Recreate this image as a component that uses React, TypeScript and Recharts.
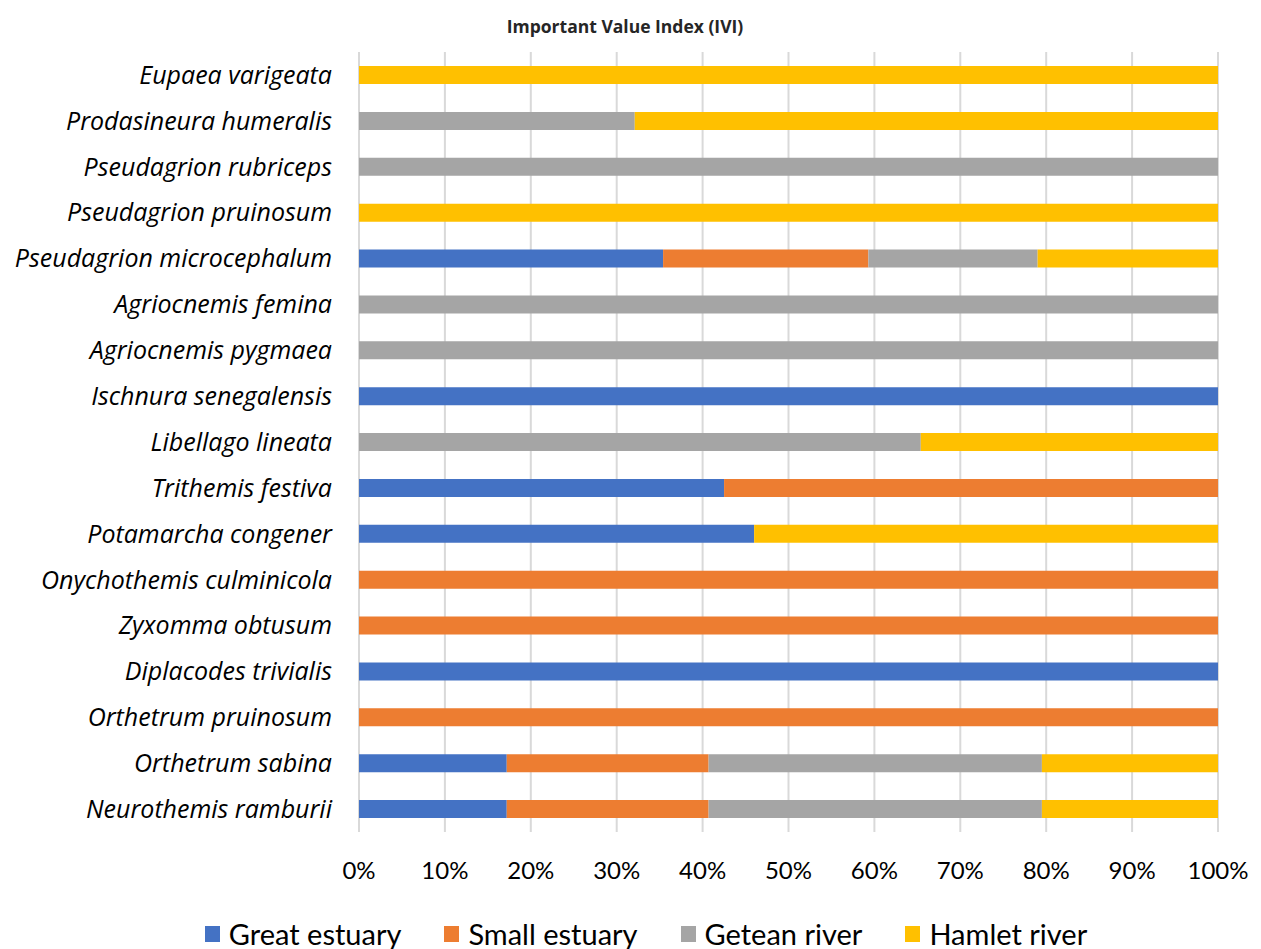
import React from 'react'
import {
  BarChart,
  Bar,
  XAxis,
  YAxis,
  CartesianGrid,
  Legend,
} from 'recharts'

const SPECIES = [
  'Eupaea varigeata',
  'Prodasineura humeralis',
  'Pseudagrion rubriceps',
  'Pseudagrion pruinosum',
  'Pseudagrion microcephalum',
  'Agriocnemis femina',
  'Agriocnemis pygmaea',
  'Ischnura senegalensis',
  'Libellago lineata',
  'Trithemis festiva',
  'Potamarcha congener',
  'Onychothemis culminicola',
  'Zyxomma obtusum',
  'Diplacodes trivialis',
  'Orthetrum pruinosum',
  'Orthetrum sabina',
  'Neurothemis ramburii',
]

// share of IVI per site, same order as SPECIES
const GREAT_ESTUARY = [0, 0, 0, 0, 35.4, 0, 0, 100, 0, 42.5, 46.0, 0, 0, 100, 0, 17.2, 17.2]
const SMALL_ESTUARY = [0, 0, 0, 0, 23.9, 0, 0, 0, 0, 57.5, 0, 100, 100, 0, 100, 23.5, 23.5]
const GETEAN_RIVER = [0, 32.1, 100, 0, 19.7, 100, 100, 0, 65.4, 0, 0, 0, 0, 0, 0, 38.8, 38.8]
const HAMLET_RIVER = [100, 67.9, 0, 100, 21.0, 0, 0, 0, 34.6, 0, 54.0, 0, 0, 0, 0, 20.5, 20.5]

const X_TICKS = [0, 0.1, 0.2, 0.3, 0.4, 0.5, 0.6, 0.7, 0.8, 0.9, 1]

const SERIES = [
  { key: 'great', name: 'Great estuary', color: '#4472C4' },
  { key: 'small', name: 'Small estuary', color: '#ED7D31' },
  { key: 'getean', name: 'Getean river', color: '#A5A5A5' },
  { key: 'hamlet', name: 'Hamlet river', color: '#FFC000' },
]

const data = SPECIES.map((name, i) => ({
  name,
  great: GREAT_ESTUARY[i],
  small: SMALL_ESTUARY[i],
  getean: GETEAN_RIVER[i],
  hamlet: HAMLET_RIVER[i],
}))

const FONT = 'Lato, "Open Sans", sans-serif'

function LegendBox() {
  return (
    <div
      style={{
        display: 'flex',
        justifyContent: 'center',
        gap: 43,
        fontFamily: FONT,
        fontSize: 29,
        lineHeight: '32px',
        color: '#000',
        paddingTop: 39,
        paddingLeft: 74,
      }}
    >
      {SERIES.map((s) => (
        <div key={s.key} style={{ display: 'flex', alignItems: 'center' }}>
          <span
            style={{
              display: 'inline-block',
              width: 15,
              height: 16,
              background: s.color,
              marginRight: 9,
            }}
          />
          {s.name}
        </div>
      ))}
    </div>
  )
}

export default function App() {
  return (
    <div style={{ position: 'absolute', left: 0, top: 0, width: 1261, height: 949, background: '#fff' }}>
      <div
        style={{
          position: 'absolute',
          top: 13,
          left: 0,
          width: 1250,
          textAlign: 'center',
          fontFamily: '"Open Sans", sans-serif',
          fontWeight: 700,
          fontSize: 17.5,
          lineHeight: '26px',
          color: '#262626',
        }}
      >
        Important Value Index (IVI)
      </div>
      <BarChart
        width={1261}
        height={949}
        data={data}
        layout="vertical"
        stackOffset="expand"
        barSize={18}
        margin={{ top: 52, right: 43, bottom: 0, left: 0 }}
      >
        <CartesianGrid horizontal={false} stroke="#d9d9d9" strokeWidth={2} />
        <XAxis
          type="number"
          domain={[0, 1]}
          ticks={X_TICKS}
          tickFormatter={(v: number) => `${Math.round(v * 100)}%`}
          axisLine={false}
          tickLine={false}
          tickSize={0}
          tickMargin={30}
          height={47}
          tick={{ fontFamily: FONT, fontSize: 24, fill: '#000' }}
          interval={0}
        />
        <YAxis
          type="category"
          dataKey="name"
          width={359}
          axisLine={false}
          tickLine={false}
          tickSize={0}
          tickMargin={27}
          interval={0}
          tick={{ fontFamily: '"Open Sans", sans-serif', fontSize: 25, fontStyle: 'italic', fill: '#000' }}
        />
        {SERIES.map((s) => (
          <Bar
            key={s.key}
            dataKey={s.key}
            name={s.name}
            stackId="ivi"
            fill={s.color}
            isAnimationActive={false}
          />
        ))}
        <Legend verticalAlign="bottom" height={70} content={() => <LegendBox />} />
      </BarChart>
    </div>
  )
}
